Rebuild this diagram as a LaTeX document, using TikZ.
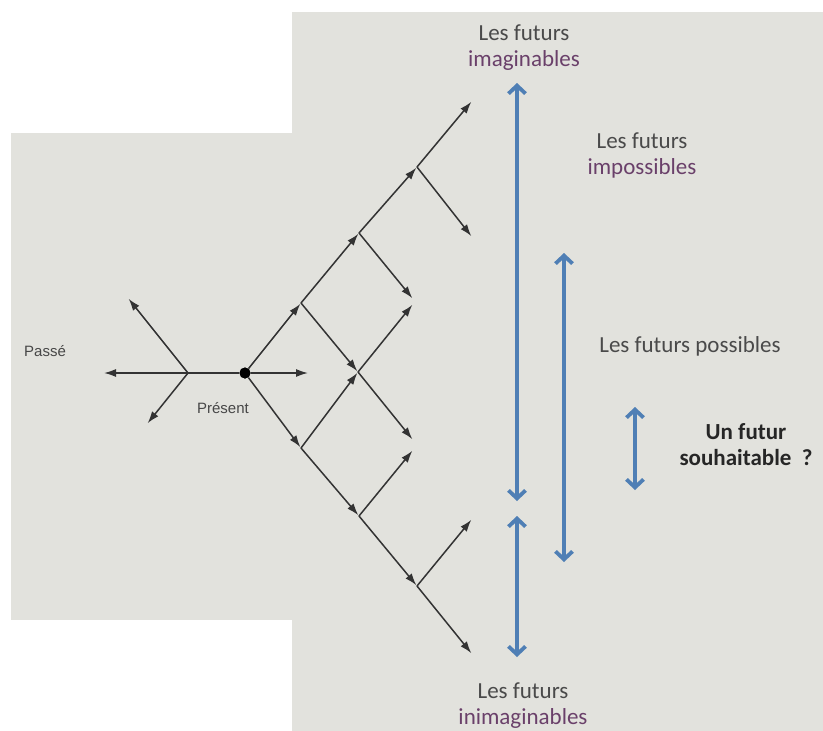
\documentclass[tikz,border=0pt]{standalone}
\usepackage{fontspec}
\setmainfont{Carlito}
\newfontfamily\arialf{Liberation Sans}
\usetikzlibrary{arrows.meta}
\definecolor{bgc}{HTML}{E2E2DD}
\definecolor{txtc}{HTML}{4A4A4A}
\definecolor{purp}{HTML}{6A406A}
\definecolor{bluec}{HTML}{4F7FB5}
\definecolor{treec}{HTML}{333333}
\begin{document}
\begin{tikzpicture}[x=1pt,y=-1pt,
  tree/.style={draw=treec,line width=1.5pt},
  tarr/.style={tree,-{Latex[length=12pt,width=8pt]},shorten >=1pt},
  barr/.style={draw=bluec,line width=3.8pt,{Straight Barb[length=8pt,width=17pt]}-{Straight Barb[length=8pt,width=17pt]}},
  dot/.style={circle,fill=black,inner sep=0pt,minimum size=11pt},
  lab/.style={font=\fontsize{23}{26}\selectfont,text=txtc,align=center,inner sep=0pt},
  blab/.style={font=\fontsize{23}{26}\selectfont\bfseries,text=black!85,align=center,inner sep=0pt},
  small/.style={font=\arialf\fontsize{15}{17}\selectfont,text=black!72,inner sep=0pt}]
\useasboundingbox (0,0) rectangle (823,731);
% background
\fill[bgc] (292,12) rectangle (823,731);
\fill[bgc] (11,133) rectangle (292,620);
% tree coordinates
\coordinate (pc) at (188,373);
\coordinate (pcL) at (103,373);
\coordinate (pcUL) at (128,298);
\coordinate (pcDL) at (147,424);
\node[dot] (p0) at (245,373) {};
\coordinate (p0R) at (309,373);
\coordinate (a1) at (301,303);
\coordinate (b1) at (301,448);
\coordinate (a2) at (359,233);
\coordinate (b2) at (358,372);
\coordinate (c2) at (359,516);
\coordinate (a3) at (417,167);
\coordinate (t1) at (413,299);
\coordinate (t2) at (413,304);
\coordinate (t3) at (413,440);
\coordinate (t4) at (413,450);
\coordinate (d3) at (417,586);
\coordinate (e1) at (472,101);
\coordinate (e2) at (472,237);
\coordinate (e3) at (472,519);
\coordinate (e4) at (472,654);
% past cross
\draw[tree] (pc) -- (p0);
\draw[tarr] (pc) -- (pcL);
\draw[tarr] (pc) -- (pcUL);
\draw[tarr] (pc) -- (pcDL);
% present
\draw[tarr] (p0) -- (p0R);
\draw[tarr] (p0) -- (a1);
\draw[tarr] (p0) -- (b1);
\draw[tarr] (a1) -- (a2);
\draw[tarr] (a1) -- (b2);
\draw[tarr] (b1) -- (b2);
\draw[tarr] (b1) -- (c2);
\draw[tarr] (a2) -- (a3);
\draw[tarr] (a2) -- (t1);
\draw[tarr] (b2) -- (t2);
\draw[tarr] (b2) -- (t3);
\draw[tarr] (c2) -- (t4);
\draw[tarr] (c2) -- (d3);
\draw[tarr] (a3) -- (e1);
\draw[tarr] (a3) -- (e2);
\draw[tarr] (d3) -- (e3);
\draw[tarr] (d3) -- (e4);
\node[dot] at (p0) {};
% labels
\node[small] (passe) at (45,351) {Passé};
\node[small] (present) at (223,408) {Présent};
\node[lab] (imag) at (524,48) {Les futurs\\\textcolor{purp}{imaginables}};
\node[lab] (imposs) at (642,155) {Les futurs\\\textcolor{purp}{impossibles}};
\node[lab] (poss) at (690,346) {Les futurs possibles};
\node[blab] (souh) at (746,445) {Un futur\\souhaitable\ \ ?};
\node[lab] (inimag) at (523,706) {Les futurs\\\textcolor{purp}{inimaginables}};
% blue arrows
\coordinate (u1t) at (517,83);
\coordinate (u1b) at (517,501);
\coordinate (u2t) at (517,516);
\coordinate (u2b) at (517,657);
\coordinate (u3t) at (564,253);
\coordinate (u3b) at (564,562);
\coordinate (u4t) at (635,407);
\coordinate (u4b) at (635,490);
\draw[barr] (u1t) -- (u1b);
\draw[barr] (u2t) -- (u2b);
\draw[barr] (u3t) -- (u3b);
\draw[barr] (u4t) -- (u4b);
\end{tikzpicture}
\end{document}
